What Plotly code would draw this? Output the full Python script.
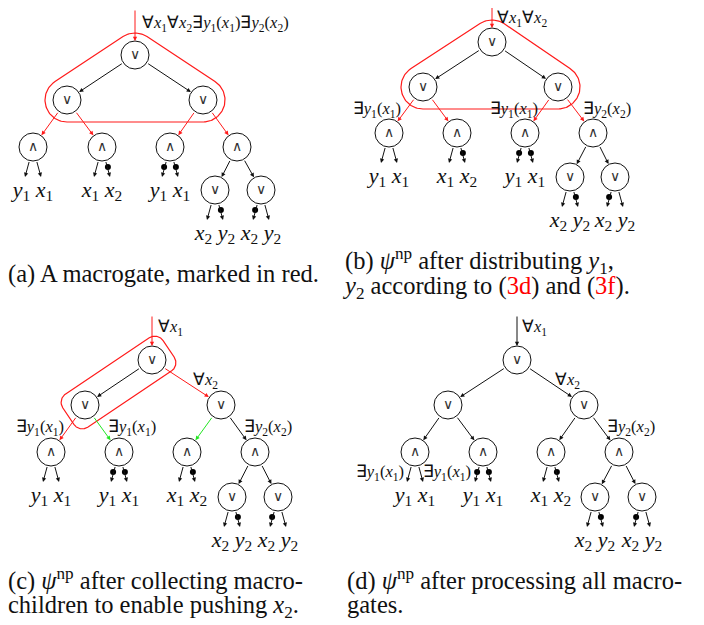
import numpy as np
import plotly.graph_objects as go

# ---------------- data ----------------
# tree topology shared by all four panels
node_kind = ["or", "or", "or", "and", "and", "and", "and", "or", "or"]
node_parent = [None, 0, 0, 1, 1, 2, 2, 6, 6]

# node centres (layout units = pixels of the page)
node_x_a = [135, 67, 203, 33, 102, 170, 237, 215, 261]
node_y_a = [55, 100, 100, 147, 147, 147, 147, 190, 190]
node_x_b = [492, 423, 558, 389, 457, 525, 593, 570, 615]
node_y_b = [42, 87, 87, 133, 133, 133, 133, 177, 177]
node_x_c = [152, 85, 221, 51, 119, 187, 255, 232, 278]
node_y_c = [360, 405, 405, 452, 452, 452, 452, 497, 497]
node_x_d = [517, 448, 584, 415, 483, 551, 619, 595, 642]
node_y_d = [360, 405, 405, 452, 452, 452, 452, 497, 497]

edge_color_a = [None, "black", "black", "red", "red", "red", "red", "black", "black"]
edge_color_b = edge_color_a
edge_color_c = [None, "black", "red", "red", "green", "green", "black", "black", "black"]
edge_color_d = [None] + ["black"] * 8

root_arrow_color = {"a": "red", "b": "red", "c": "red", "d": "black"}
root_arrow_top = {"a": 9, "b": 0, "c": 315, "d": 315}

leaf_owner = [3, 4, 5, 7, 8]
leaf_names_ab = [["y1", "x1"], ["x1", "x2"], ["y1", "x1"], ["x2", "y2"], ["x2", "y2"]]
leaf_neg_ab = [[0, 0], [0, 1], [1, 1], [0, 1], [1, 0]]
leaf_names_cd = [["y1", "x1"], ["y1", "x1"], ["x1", "x2"], ["x2", "y2"], ["x2", "y2"]]
leaf_neg_cd = [[0, 0], [1, 1], [0, 1], [0, 1], [1, 0]]

# quantifier labels: (formula tokens, x, y, anchor)
labels_a = [(["A:x1", "A:x2", "E:y1(x1)", "E:y2(x2)"], 142, 24, "left")]
labels_b = [(["A:x1", "A:x2"], 497, 19, "left"),
            (["E:y1(x1)"], 401, 110, "right"),
            (["E:y1(x1)"], 538, 110, "right"),
            (["E:y2(x2)"], 583, 110, "left")]
labels_c = [(["A:x1"], 158, 328, "left"),
            (["A:x2"], 193, 381, "left"),
            (["E:y1(x1)"], 64, 428, "right"),
            (["E:y1(x1)"], 108, 428, "left"),
            (["E:y2(x2)"], 244, 428, "left")]
labels_d = [(["A:x1"], 522, 328, "left"),
            (["A:x2"], 555, 381, "left"),
            (["E:y2(x2)"], 607, 428, "left"),
            (["E:y1(x1)"], 404, 473, "right"),
            (["E:y1(x1)"], 471, 473, "right")]

caption_text = [
    "(a) A macrogate, marked in red.",
    "(b) <i>ψ</i><sup>np</sup> after distributing <i>y</i><sub>1</sub>,",
    "<i>y</i><sub>2</sub> according to (<span style='color:red'>3d</span>) and "
    "(<span style='color:red'>3f</span>).",
    "(c) <i>ψ</i><sup>np</sup> after collecting macro-",
    "children to enable pushing <i>x</i><sub>2</sub>.",
    "(d) <i>ψ</i><sup>np</sup> after processing all macro-",
    "gates.",
]
caption_x = [8, 345, 345, 8, 8, 347, 347]
caption_y = [276, 263, 288, 583, 607, 583, 607]

# ---------------- helpers ----------------
RED = "#ff1a1a"
GREEN = "#22e622"
COL = {"black": "#111111", "red": RED, "green": GREEN}
R = 14
SERIF = "Liberation Serif, Times New Roman, serif"
PAGE_MARGIN = 8  # browser default body margin


def var(s):
    return "<i>%s</i><sub>%s</sub>" % (s[0], s[1])


def formula(tokens):
    out = ""
    for t in tokens:
        q, body = t.split(":")
        sym = "∀" if q == "A" else "∃"
        if "(" in body:
            v, arg = body[:-1].split("(")
            out += sym + var(v) + "(" + var(arg) + ")"
        else:
            out += sym + var(body)
    return out


def hull(points):
    pts = sorted(set(points))

    def cross(o, a, b):
        return (a[0] - o[0]) * (b[1] - o[1]) - (a[1] - o[1]) * (b[0] - o[0])
    lower, upper = [], []
    for p in pts:
        while len(lower) >= 2 and cross(lower[-2], lower[-1], p) <= 0:
            lower.pop()
        lower.append(p)
    for p in reversed(pts):
        while len(upper) >= 2 and cross(upper[-2], upper[-1], p) <= 0:
            upper.pop()
        upper.append(p)
    h = lower[:-1] + upper[:-1]
    h.append(h[0])
    return [p[0] for p in h], [p[1] for p in h]


def circles_outline(centers, r, n=120):
    pts = []
    for cx, cy in centers:
        for t in np.linspace(0, 2 * np.pi, n, endpoint=False):
            pts.append((round(cx + r * np.cos(t), 3), round(cy + r * np.sin(t), 3)))
    return hull(pts)


fig = go.Figure()
annotations = []


def arrow(x0, y0, x1, y1, color, s0=0, s1=0):
    annotations.append(dict(
        x=x1, y=y1, ax=x0, ay=y0, xref="x", yref="y", axref="x", ayref="y",
        text="", showarrow=True, arrowhead=2, arrowsize=0.85, arrowwidth=1,
        arrowcolor=COL[color], standoff=s1, startstandoff=s0))


def text_trace(xs, ys, texts, positions, size, colors="#111"):
    fig.add_trace(go.Scatter(x=xs, y=ys, text=texts, mode="text",
                             textposition=positions,
                             marker=dict(size=0),
                             textfont=dict(family=SERIF, size=size, color=colors),
                             hoverinfo="skip", showlegend=False))


def draw_panel(key, xs, ys, ecol, names, negs, labels, outline=None):
    if outline is not None:
        ox, oy = outline
        fig.add_trace(go.Scatter(x=ox, y=oy, mode="lines",
                                 line=dict(color=RED, width=1.2),
                                 hoverinfo="skip", showlegend=False))
    arrow(xs[0], root_arrow_top[key], xs[0], ys[0], root_arrow_color[key], 0, R)
    for i, p in enumerate(node_parent):
        if p is None:
            continue
        arrow(xs[p], ys[p], xs[i], ys[i], ecol[i], R, R + 0.5)
    lx, ly, lt, dx, dy = [], [], [], [], []
    for k, owner in enumerate(leaf_owner):
        cx, cy = xs[owner], ys[owner]
        for side, sgn in enumerate((-1, 1)):
            arrow(cx + sgn * 3.5, cy + 13.5, cx + sgn * 8, cy + 30, "black")
            if negs[k][side]:
                dx.append(cx + sgn * 5.9)
                dy.append(cy + 20)
            lx.append(cx + sgn * 11.5)
            ly.append(cy + 44)
            lt.append(var(names[k][side]))
    text_trace(lx, ly, lt, "middle center", 22)
    fig.add_trace(go.Scatter(x=dx, y=dy, mode="markers",
                             marker=dict(size=6, color="black"),
                             hoverinfo="skip", showlegend=False))
    fig.add_trace(go.Scatter(
        x=xs, y=ys, mode="markers+text",
        text=["∨" if k == "or" else "∧" for k in node_kind],
        textposition="middle center",
        textfont=dict(family="DejaVu Sans", size=14, color="#333"),
        marker=dict(size=2 * R, color="white", line=dict(color="#111", width=1)),
        hoverinfo="skip", showlegend=False))
    text_trace([l[1] for l in labels], [l[2] for l in labels],
               [formula(l[0]) for l in labels],
               ["middle right" if l[3] == "left" else "middle left" for l in labels],
               16.5)


out_a = circles_outline([(node_x_a[i], node_y_a[i]) for i in (0, 1, 2)], 22)
out_b = circles_outline([(node_x_b[i], node_y_b[i]) for i in (0, 1, 2)], 22)
p0 = np.array([node_x_c[0], node_y_c[0]], float)
p1 = np.array([node_x_c[1], node_y_c[1]], float)
u = (p1 - p0) / np.linalg.norm(p1 - p0)
nrm = np.array([-u[1], u[0]])
corner_c = [tuple(p0 - 10 * u + 10 * nrm), tuple(p0 - 10 * u - 10 * nrm),
            tuple(p1 + 10 * u + 10 * nrm), tuple(p1 + 10 * u - 10 * nrm)]
out_c = circles_outline(corner_c, 10)

draw_panel("a", node_x_a, node_y_a, edge_color_a, leaf_names_ab, leaf_neg_ab, labels_a, out_a)
draw_panel("b", node_x_b, node_y_b, edge_color_b, leaf_names_ab, leaf_neg_ab, labels_b, out_b)
draw_panel("c", node_x_c, node_y_c, edge_color_c, leaf_names_cd, leaf_neg_cd, labels_c, out_c)
draw_panel("d", node_x_d, node_y_d, edge_color_d, leaf_names_cd, leaf_neg_cd, labels_d, None)

text_trace(caption_x, caption_y, caption_text, "middle right", 24.5)

W, H = 704, 625
fig.update_layout(
    width=W - PAGE_MARGIN, height=H - PAGE_MARGIN, margin=dict(l=0, r=0, t=0, b=0),
    paper_bgcolor="white", plot_bgcolor="white",
    xaxis=dict(range=[PAGE_MARGIN, W], visible=False, fixedrange=True),
    yaxis=dict(range=[H, PAGE_MARGIN], visible=False, fixedrange=True),
    annotations=annotations, showlegend=False,
)
fig.write_html("out.html")
